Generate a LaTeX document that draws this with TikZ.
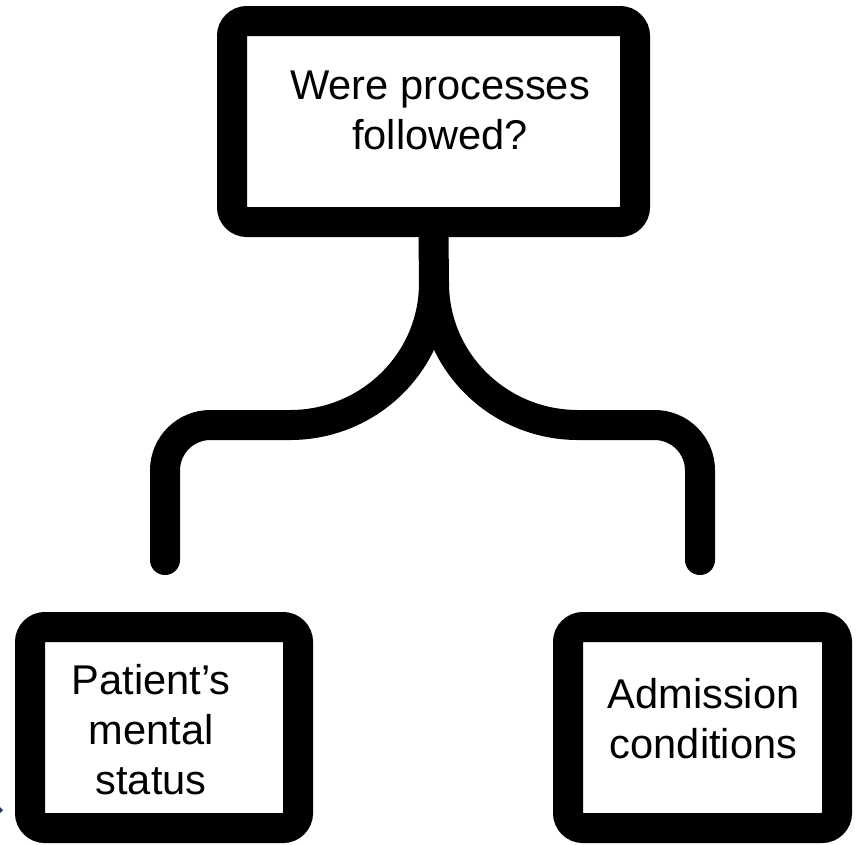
\documentclass[tikz,border=0pt]{standalone}
\usepackage{fontspec}
\setmainfont{Liberation Sans}
\usepackage{xcolor}
\definecolor{markblue}{RGB}{32,56,100}

\begin{document}
\begin{tikzpicture}[x=0.75pt,y=0.75pt,yscale=-1,xscale=1,
  box/.style={draw=black, line width=22.5pt, rounded corners=11.25pt, minimum height=150.75pt, inner sep=0pt},
  branch/.style={draw=black, line width=22.5pt, line cap=round},
  label/.style={align=center, inner sep=0pt, font=\fontsize{31.2}{37.5}\selectfont}]
%uncomment if require: \path (0,844); %set diagram left start at 0, and has height of 844
\useasboundingbox (0,0) rectangle (859,844);

%Rounded Rect [top]
\node [box, minimum width=302.25pt] (question) at (433.5,121.5) {};
%Rounded Rect [bottom left]
\node [box, minimum width=201pt] (patient) at (164,727.5) {};
%Rounded Rect [bottom right]
\node [box, minimum width=201.75pt] (admission) at (702.5,727.5) {};

\coordinate (split) at (434,283);
\coordinate (leftfoot) at (165,560);
\coordinate (rightfoot) at (700,560);

%Curve Lines [left branch]
\draw [branch] (question.south) -- (split) .. controls (434,362) and (369,425) .. (290,425) [rounded corners=34pt] -- (leftfoot |- 290,425) -- (leftfoot) ;
%Curve Lines [right branch]
\draw [branch] (split) .. controls (434,362) and (499,425) .. (578,425) [rounded corners=34pt] -- (rightfoot |- 578,425) -- (rightfoot) ;

%Shape: small mark
\fill [markblue] (0,807) -- (3,810) -- (0,813) -- cycle ;

% Text Node
\node [label] (questiontext) at (440,110.5) {Were processes\\followed?};
% Text Node
\node [label] (patienttext) at (151,730) {Patient’s\\mental\\status};
% Text Node
\node [label] (admissiontext) at (703.5,719) {Admission\\conditions};

\end{tikzpicture}
\end{document}
